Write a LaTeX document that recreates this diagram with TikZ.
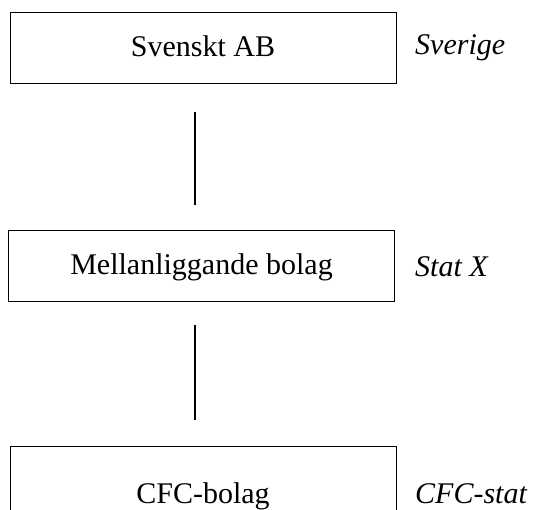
\documentclass[tikz,border=0pt]{standalone}
\usepackage{fontspec}
\setmainfont{Liberation Serif}
\tikzset{
  bolag/.style={draw, line width=0.8pt, minimum width=386pt, minimum height=71pt, inner sep=0pt,
    text height=21pt, text depth=3pt, font=\fontsize{30}{36}\selectfont},
  stat/.style={anchor=base west, inner sep=0pt, font=\fontsize{30}{36}\selectfont\itshape},
  agare/.style={line width=1.2pt}
}
\begin{document}
\begin{tikzpicture}[x=1pt, y=-1pt]
    \clip (0,0) rectangle (541,510);
    \fill[white] (0,0) rectangle (541,510);
    \node[bolag] (sab) at (203,47.5) {Svenskt AB};
    \node[bolag] (mellan) at (201.5,266) {Mellanliggande bolag};
    \node[bolag, minimum height=96pt] (cfc) at (203,494) {CFC-bolag};
    \node[stat] (sverige) at (415,55) {Sverige};
    \node[stat] (statx) at (415,277) {Stat X};
    \node[stat] (cfcstat) at (415,503) {CFC-stat};
    \draw[agare, shorten <=29pt, shorten >=25pt] ([xshift=-8pt]sab.south) -- ([xshift=-6.5pt]mellan.north);
    \draw[agare, shorten <=23pt, shorten >=26pt] ([xshift=-6.5pt]mellan.south) -- ([xshift=-8pt]cfc.north);
\end{tikzpicture}
\end{document}
